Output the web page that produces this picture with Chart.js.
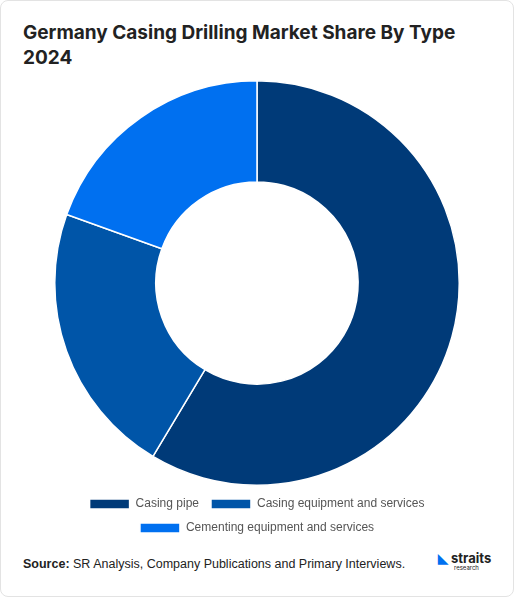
<!DOCTYPE html>
<html><head><meta charset="utf-8">
<script src="https://cdn.jsdelivr.net/npm/chart.js"></script>
<style>
body{margin:0;background:#fff;font-family:Inter,"Liberation Sans",sans-serif;}
#card{position:absolute;left:0;top:0;width:512px;height:595px;border:1px solid #e3e3e3;border-radius:8px;}
#title{position:absolute;left:23px;top:20px;font-size:19px;font-weight:700;color:#222;line-height:25px;}
#wrap{position:absolute;left:0;top:76px;width:514px;height:468px;}
#src{position:absolute;left:23px;top:557px;font-size:12.5px;color:#222;font-family:"Liberation Sans",Arial,sans-serif;}
#logo{position:absolute;left:438px;top:553px;font-size:13px;font-weight:700;color:#222;line-height:10px;}
#logo small{display:block;font-size:6px;font-weight:400;padding-left:16px;}
</style></head><body>
<div id="card"></div>
<div id="title">Germany Casing Drilling Market Share By Type<br>2024</div>
<div id="wrap"><canvas id="c"></canvas></div>
<div id="src"><b>Source:</b> SR Analysis, Company Publications and Primary Interviews.</div>
<div id="logo"><span style="color:#0070f0">◣</span> straits<small>research</small></div>
<script>
const categories=["Casing pipe","Casing equipment and services","Cementing equipment and services"];
const shares=[58.6,21.9,19.5];
const colors=["#003a78","#0055a8","#0070f0"];
new Chart(document.getElementById('c'),{type:'doughnut',
data:{labels:categories,datasets:[{data:shares,backgroundColor:colors,borderColor:'#fff',borderWidth:1.5}]},
options:{responsive:true,maintainAspectRatio:false,animation:false,cutout:'50%',
layout:{padding:{top:4,bottom:0}},
plugins:{tooltip:{enabled:false},legend:{position:'bottom',labels:{boxWidth:40,boxHeight:10,color:'#555',font:{size:12,family:'Liberation Sans'},padding:12}}}}});
</script></body></html>
